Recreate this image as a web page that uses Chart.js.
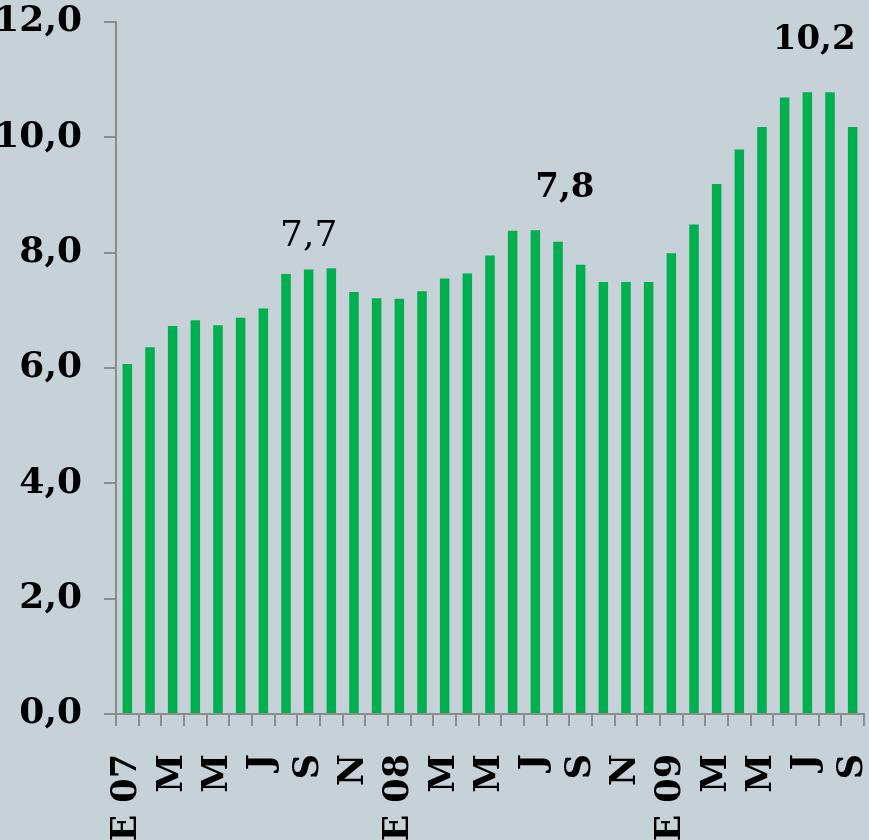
<!DOCTYPE html>
<html>
<head>
<meta charset="utf-8">
<script src="https://cdn.jsdelivr.net/npm/chart.js@4/dist/chart.umd.min.js"></script>
<style>
  html, body { margin: 0; padding: 0; background: #c6d1d8; overflow: hidden; }
  #wrap { width: 869px; height: 840px; }
</style>
</head>
<body>
<div id="wrap"><canvas id="chart1" width="869" height="840"></canvas></div>
<script>
// months, Jan 2007 .. Sep 2009 (spanish initials)
const months = ["E 07","F","M","A","M","J","J","A","S","O","N","D",
                "E 08","F","M","A","M","J","J","A","S","O","N","D",
                "E 09","F","M","A","M","J","J","A","S"];
const values = [6.07, 6.36, 6.73, 6.83, 6.74, 6.87, 7.03, 7.63, 7.71, 7.73, 7.32, 7.21,
                7.20, 7.33, 7.55, 7.64, 7.95, 8.38, 8.39, 8.19, 7.79, 7.49, 7.49, 7.49,
                7.99, 8.49, 9.19, 9.79, 10.18, 10.69, 10.78, 10.78, 10.18];
const yTicks = [0, 2, 4, 6, 8, 10, 12];

// callout texts and where they sit (category index, y value)
const noteText = ["7,7", "7,8", "10,2"];
const noteIndex = [8, 19.3, 30.3];
const noteValue = [8.27, 9.12, 11.69];

const serif = "'DejaVu Serif', 'Liberation Serif', serif";

function fmt(v) {
  return v.toFixed(1).replace(".", ",");
}

const notesPlugin = {
  id: "notes",
  afterDatasetsDraw(chart) {
    const ctx = chart.ctx;
    const x = chart.scales.x, y = chart.scales.y;
    ctx.save();
    ctx.fillStyle = "#000";
    ctx.textAlign = "center";
    ctx.textBaseline = "middle";
    for (var i = 0; i < noteText.length; i++) {
      ctx.font = (i == 0 ? "normal 36px " : "bold 34px ") + serif;
      ctx.fillText(noteText[i], x.getPixelForValue(noteIndex[i]), y.getPixelForValue(noteValue[i]));
    }
    ctx.restore();
  }
};

const config = {
  type: "bar",
  data: {
    labels: months,
    datasets: [{
      data: values,
      backgroundColor: "#00b050",
      borderWidth: 0,
      barPercentage: 0.42,
      categoryPercentage: 1.0
    }]
  },
  options: {
    responsive: false,
    animation: false,
    layout: { padding: { top: 22, right: 5, left: 0, bottom: 0 } },
    plugins: { legend: { display: false }, tooltip: { enabled: false } },
    scales: {
      x: {
        afterFit: function(scale) {
          scale.height = 126;
          scale.paddingLeft = 0;
          scale.paddingRight = 0;
        },
        border: { display: true, color: "#8c8c8c", width: 2 },
        grid: { display: true, drawOnChartArea: false, drawTicks: true, tickLength: 12, color: "#8c8c8c", lineWidth: 2, offset: true },
        ticks: {
          autoSkip: false,
          maxRotation: 90,
          minRotation: 90,
          padding: 28,
          color: "#000",
          font: { family: serif, size: 35, weight: "bold" },
          callback: function(val, idx) { return idx % 2 == 0 ? months[idx] : ""; }
        }
      },
      y: {
        min: 0,
        max: 12,
        afterFit: function(scale) {
          scale.width = 116;
          scale.paddingTop = 0;
          scale.paddingBottom = 0;
        },
        afterBuildTicks: function(scale) { scale.ticks = yTicks.map(v => ({ value: v })); },
        border: { display: true, color: "#8c8c8c", width: 2 },
        grid: { display: true, drawOnChartArea: false, drawTicks: true, tickLength: 12, color: "#8c8c8c", lineWidth: 2 },
        ticks: {
          padding: 22,
          color: "#000",
          font: { family: serif, size: 36, weight: "bold" },
          callback: function(v) { return fmt(v); }
        }
      }
    }
  },
  plugins: [notesPlugin]
};

var myChart = new Chart(document.getElementById("chart1"), config);
</script>
</body>
</html>
